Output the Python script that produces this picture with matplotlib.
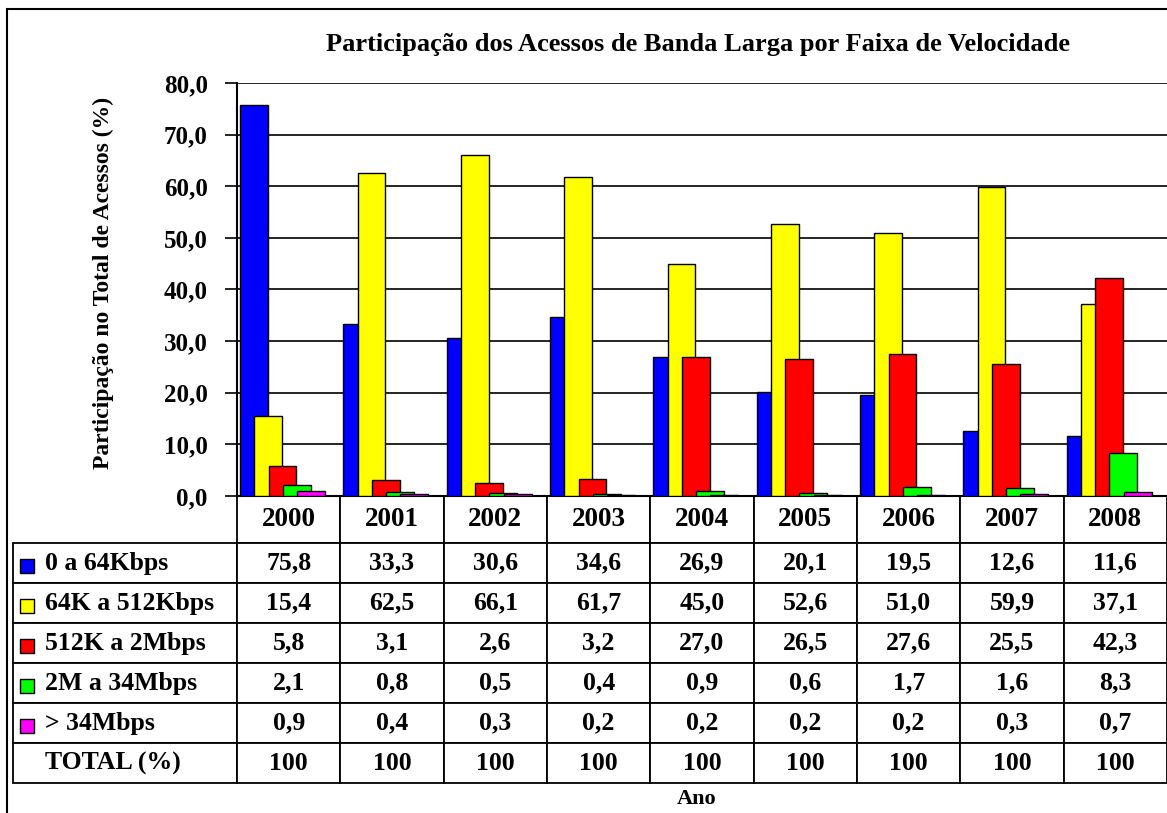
import matplotlib
matplotlib.use("Agg")
import matplotlib.pyplot as plt
from matplotlib.patches import Rectangle
import numpy as np

plt.rcParams['font.family'] = ['Liberation Serif', 'DejaVu Serif']
plt.rcParams['font.weight'] = 'bold'

years = ['2000', '2001', '2002', '2003', '2004', '2005', '2006', '2007', '2008']
series_names = ['0 a 64Kbps', '64K a 512Kbps', '512K a 2Mbps', '2M a 34Mbps', '> 34Mbps']
s_0_64k = [75.8, 33.3, 30.6, 34.6, 26.9, 20.1, 19.5, 12.6, 11.6]
s_64k_512k = [15.4, 62.5, 66.1, 61.7, 45.0, 52.6, 51.0, 59.9, 37.1]
s_512k_2m = [5.8, 3.1, 2.6, 3.2, 27.0, 26.5, 27.6, 25.5, 42.3]
s_2m_34m = [2.1, 0.8, 0.5, 0.4, 0.9, 0.6, 1.7, 1.6, 8.3]
s_34m = [0.9, 0.4, 0.3, 0.2, 0.2, 0.2, 0.2, 0.3, 0.7]
totals = [100, 100, 100, 100, 100, 100, 100, 100, 100]
colors = ['#0000FF', '#FFFF00', '#FF0000', '#00FF00', '#FF00FF']

series = [s_0_64k, s_64k_512k, s_512k_2m, s_2m_34m, s_34m]


def fmt(v):
    return f'{v:.1f}'.replace('.', ',')


W, H = 1167, 813
fig = plt.figure(figsize=(W / 100, H / 100), dpi=100)
ax_l, ax_r, ax_t, ax_b = 237, 1167, 83, 496
ax = fig.add_axes([ax_l / W, 1 - ax_b / H, (ax_r - ax_l) / W, (ax_b - ax_t) / H])
axw, axh = ax_r - ax_l, ax_b - ax_t

x = np.arange(len(years))
step = 0.138
width = 0.27
for i, (vals, col) in enumerate(zip(series, colors)):
    ax.bar(x + (i - 2) * step - 0.06, vals, width=width, color=col,
           edgecolor='black', linewidth=1.0, zorder=3 + i)

ax.set_xlim(-0.5, len(years) - 0.5)
ax.set_ylim(0, 80)
ax.set_yticks(np.arange(0, 81, 10))
ax.set_yticklabels([fmt(v) for v in np.arange(0, 81, 10)], fontsize=18, fontweight='bold')
ax.set_xticks([])
ax.tick_params(axis='y', length=9, width=1.2, pad=12, direction='out')
ax.yaxis.grid(True, color='black', linewidth=1.2)
ax.set_axisbelow(True)
for sp in ['top', 'right']:
    ax.spines[sp].set_visible(False)
ax.spines['left'].set_linewidth(1.5)
ax.spines['bottom'].set_linewidth(1.5)

# data table under the bars; first column holds the series names
tbl_left, tbl_bottom = 13, 783
head_h, row_h = 47, 40
row_labels = series_names + ['TOTAL (%)']
value_rows = [[fmt(v) for v in s] for s in series] + [[str(t) for t in totals]]
cell_text = [[lab] + vals for lab, vals in zip(row_labels, value_rows)]
tab = ax.table(cellText=cell_text, colLabels=[''] + years, cellLoc='center',
               bbox=[(tbl_left - ax_l) / axw, (ax_b - tbl_bottom) / axh,
                     (ax_r - tbl_left) / axw, (tbl_bottom - ax_b) / axh])
tab.auto_set_font_size(False)
for (r, c), cell in tab.get_celld().items():
    cell.set_linewidth(1.3)
    txt = cell.get_text()
    txt.set_fontweight('bold')
    txt.set_fontsize(19.5 if r == 0 else 18.5)
    if c == 0:
        cell.set_width((ax_l - tbl_left) / axw)
        cell.PAD = 0.145
        txt.set_horizontalalignment('left')
        cell._loc = 'left'
        if r == 0:
            cell.visible_edges = ''
    else:
        cell.set_width(1 / len(years))
    cell.set_height((head_h if r == 0 else row_h) / axh)

# colour keys in the row label cells
for i, col in enumerate(colors):
    yc = ax_b + head_h + row_h / 2 + 3 + row_h * i
    ax.add_patch(Rectangle(((20 - ax_l) / axw, (ax_b - yc - 7) / axh), 14 / axw, 14 / axh,
                           transform=ax.transAxes, facecolor=col, edgecolor='black',
                           linewidth=1.0, clip_on=False, zorder=10))

fig.text(698 / W, 1 - 45 / H, 'Participação dos Acessos de Banda Larga por Faixa de Velocidade',
         ha='center', va='center', fontsize=19, fontweight='bold')
fig.text(103 / W, 1 - 283 / H, 'Participação no Total de Acessos (%)', rotation=90,
         ha='center', va='center', fontsize=17, fontweight='bold')
fig.text(697 / W, 1 - 799 / H, 'Ano', ha='center', va='center', fontsize=16, fontweight='bold')

# outer chart frame
fig.add_artist(Rectangle((7 / W, -0.1), 1.2, 1.1 - 9 / H, transform=fig.transFigure,
                         fill=False, edgecolor='black', linewidth=1.5))

fig.savefig('out.png', dpi=100)
